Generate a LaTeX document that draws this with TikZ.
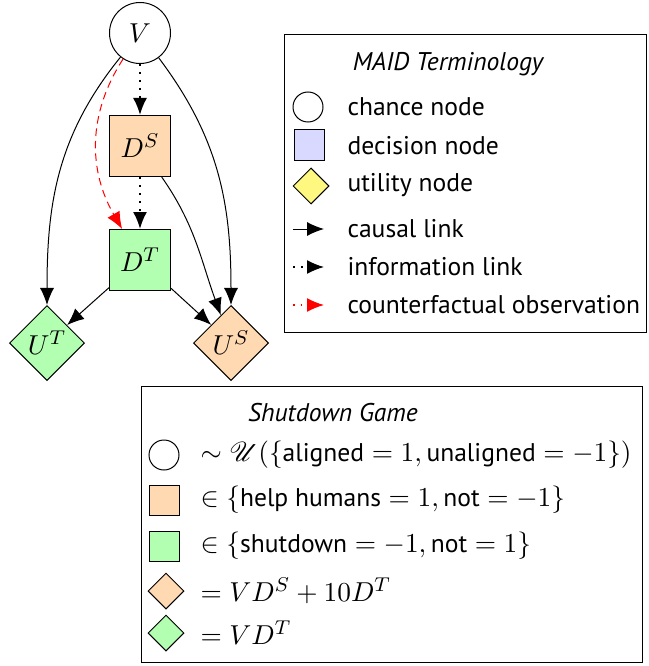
\documentclass[tikz,border=0pt]{standalone}
\usepackage[no-math]{fontspec}
\setmainfont{PT Sans}[Scale=0.93]
\usepackage{amsmath}
\usepackage{amssymb}
\usepackage{mathrsfs}
\usetikzlibrary{shapes.geometric,arrows.meta}

\begin{document}
\begin{tikzpicture}[x=0.4pt, y=-0.4pt,
	font=\fontsize{11}{13}\selectfont,
	chance/.style={circle, draw=black, fill=white, minimum size=24.4pt, inner sep=0pt},
	decision/.style={rectangle, draw=black, minimum size=24.4pt, inner sep=0pt},
	utility/.style={diamond, draw=black, minimum size=30pt, inner sep=0pt},
	tip/.style={-{Latex[length=6.8pt,width=5.6pt]}},
	causal/.style={tip, black},
	info/.style={tip, black, line width=0.8pt, dash pattern=on 0.8pt off 2.4pt},
	cfobs/.style={tip, red, dash pattern=on 3pt off 2pt},
	legtext/.style={anchor=west, inner sep=0pt},
	legtitle/.style={font=\fontsize{11}{13}\selectfont\itshape}
]
\useasboundingbox (0,0) rectangle (648,666);

\node[chance] (V) at (140,33) {$V$};
\node[decision, fill=orange!30] (DS) at (140,146) {$D^S$};
\node[decision, fill=green!30] (DT) at (140,260) {$D^T$};
\node[utility, fill=green!30] (UT) at (47,343) {$U^T$};
\node[utility, fill=orange!30] (US) at (231,343) {$U^S$};

\draw[causal] (V) to[out=231, in=90] (UT);
\draw[causal] (V) to[out=-53, in=90] (US);
\draw[info] (V) -- (DS);
\draw[info] (DS) -- (DT);
\draw[causal] (DS) to[out=-55, in=110] (US);
\draw[causal] (DT) -- (UT);
\draw[causal] (DT) -- (US);
\draw[cfobs] (V) to[out=237, in=120] (DT);

\draw[black] (284,35) rectangle (646,332);
\node[legtitle] (maid) at (448,64) {MAID Terminology};
\node[chance, minimum size=12pt] (lchance) at (308,107) {};
\node[decision, minimum size=12pt, fill=blue!15] (ldecision) at (309,145) {};
\node[utility, minimum size=14.4pt, fill=yellow!50] (lutility) at (311,186) {};
\coordinate (cA) at (293,229);
\coordinate (cB) at (324,229);
\coordinate (iA) at (293,267);
\coordinate (iB) at (324,267);
\coordinate (rA) at (293,305);
\coordinate (rB) at (324,305);
\draw[causal] (cA) -- (cB);
\draw[info, line width=0.6pt] (iA) -- (iB);
\draw[cfobs, line width=0.6pt, dash pattern=on 0.6pt off 2.4pt] (rA) -- (rB);
\node[legtext] (tchance) at (347,107) {chance node};
\node[legtext] (tdecision) at (347,146) {decision node};
\node[legtext] (tutility) at (347,185) {utility node};
\node[legtext] (tcausal) at (347,229) {causal link};
\node[legtext] (tinfo) at (347,267) {information link};
\node[legtext] (tcf) at (347,305) {counterfactual observation};

\draw[black] (141,386) rectangle (642,662);
\node[legtitle] (game) at (333,413) {Shutdown Game};
\node[chance, minimum size=12pt] (gchance) at (164,455) {};
\node[decision, minimum size=12pt, fill=orange!30] (gsafety) at (164,500) {};
\node[decision, minimum size=12pt, fill=green!30] (gshut) at (164,546) {};
\node[utility, minimum size=14.4pt, fill=orange!30] (gus) at (166,591) {};
\node[utility, minimum size=14.4pt, fill=green!30] (gut) at (166,633) {};
\node[legtext] (tgchance) at (200,455) {$\sim\mathscr{U}(\{\text{aligned}=1,\text{unaligned}=-1\})$};
\node[legtext] (tgsafety) at (200,500) {$\in\{\text{help humans}=1,\text{not}=-1\}$};
\node[legtext] (tgshut) at (200,546) {$\in\{\text{shutdown}=-1,\text{not}=1\}$};
\node[legtext] (tgus) at (200,591) {$=VD^S+10D^T$};
\node[legtext] (tgut) at (200,633) {$=VD^T$};

\end{tikzpicture}
\end{document}
